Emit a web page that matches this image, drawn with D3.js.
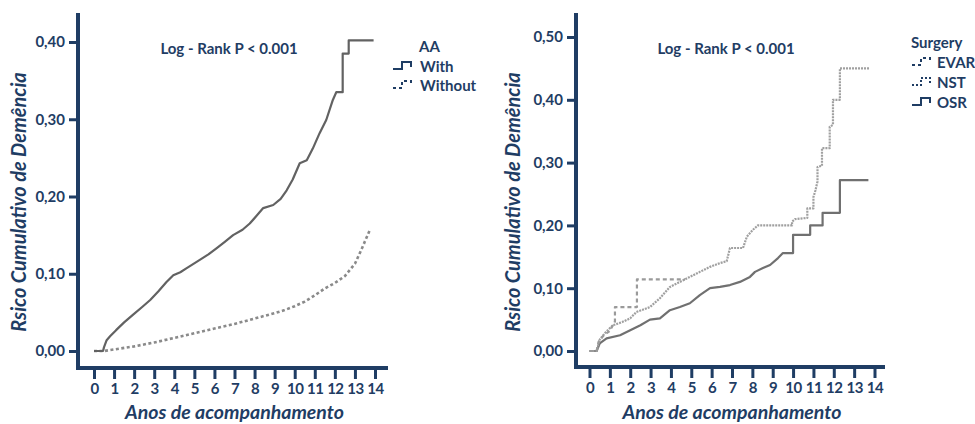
<!DOCTYPE html>
<html>
<head>
<meta charset="utf-8">
<script src="https://cdn.jsdelivr.net/npm/d3@7"></script>
<style>
  html, body { margin: 0; padding: 0; background: #ffffff; }
  svg { display: block; }
  text { font-family: Lato, "Open Sans", sans-serif; fill: #1f3d64; }
</style>
</head>
<body>
<svg id="chart" width="975" height="424"></svg>
<script>
// ---------- DATA ----------
const yearTicks = [0,1,2,3,4,5,6,7,8,9,10,11,12,13,14];
const leftYTicks = [0, 0.1, 0.2, 0.3, 0.4];
const rightYTicks = [0, 0.1, 0.2, 0.3, 0.4, 0.5];

const aaLegend = ["With", "Without"];
const surgeryLegend = ["EVAR", "NST", "OSR"];

// AA = With  [year, cumulative risk]
const withAA = [[0,0],[0.45,0],[0.5,0.005],[0.63,0.014],[0.8,0.019],[1.1,0.027],[1.5,0.037],[1.95,0.047],[2.4,0.057],[2.8,0.066],[3.2,0.077],[3.6,0.089],[3.95,0.098],[4.3,0.102],[4.6,0.107],[5.27,0.118],[5.7,0.125],[6.1,0.133],[6.5,0.141],[6.93,0.15],[7.4,0.157],[7.76,0.165],[8.1,0.175],[8.43,0.185],[8.93,0.189],[9.3,0.197],[9.6,0.208],[9.9,0.222],[10.25,0.243],[10.6,0.247],[10.9,0.262],[11.24,0.282],[11.57,0.299],[11.9,0.325],[12.07,0.335],[12.39,0.335],[12.39,0.385],[12.69,0.385],[12.69,0.402],[13.93,0.402]];
// AA = Without
const withoutAA = [[0,0],[0.5,0],[1,0.002],[2,0.006],[3,0.011],[4,0.017],[5,0.023],[6,0.029],[7,0.035],[8,0.042],[9,0.049],[9.5,0.053],[10,0.058],[10.5,0.064],[11,0.072],[11.5,0.081],[12,0.088],[12.5,0.097],[13,0.113],[13.3,0.13],[13.5,0.142],[13.75,0.157]];

// Surgery
const evar = [[0,0],[0.35,0],[0.45,0.015],[0.7,0.025],[1.0,0.032],[1.25,0.047],[1.25,0.07],[2.33,0.07],[2.33,0.114],[4.69,0.114]];
const nst = [[0,0],[0.35,0],[0.5,0.018],[0.8,0.03],[1.15,0.041],[1.6,0.046],[2.0,0.052],[2.3,0.062],[2.97,0.07],[3.46,0.084],[3.95,0.102],[4.44,0.11],[4.93,0.118],[5.42,0.126],[5.92,0.134],[6.41,0.14],[6.74,0.143],[6.9,0.164],[7.54,0.164],[7.73,0.182],[8.03,0.193],[8.27,0.2],[9.95,0.2],[9.95,0.206],[10.1,0.21],[10.7,0.212],[10.7,0.227],[11.0,0.227],[11.0,0.245],[11.1,0.256],[11.2,0.27],[11.2,0.293],[11.42,0.295],[11.42,0.323],[11.8,0.323],[11.8,0.357],[11.96,0.36],[11.96,0.40],[12.3,0.40],[12.3,0.45],[13.78,0.45]];
const osr = [[0,0],[0.35,0],[0.5,0.012],[0.84,0.02],[1.5,0.025],[2.0,0.033],[2.5,0.041],[2.97,0.05],[3.46,0.052],[3.95,0.065],[4.44,0.07],[4.93,0.076],[5.42,0.089],[5.92,0.1],[6.41,0.102],[6.9,0.105],[7.39,0.11],[7.88,0.118],[8.13,0.126],[8.52,0.132],[8.87,0.137],[9.26,0.148],[9.5,0.156],[10.0,0.156],[10.0,0.185],[10.84,0.185],[10.84,0.2],[11.45,0.2],[11.45,0.22],[12.3,0.22],[12.3,0.272],[13.7,0.272]];

// ---------- DRAW ----------
const NAVY = "#1f3d64";
const svg = d3.select("#chart");
const fmt = d => d3.format(".2f")(d).replace(".", ",");

function panel(opts) {
  const g = svg.append("g");
  const x = d3.scaleLinear().domain([0, 14]).range(opts.xr);
  const y = d3.scaleLinear().domain([0, opts.ymax]).range(opts.yr);

  // axis lines (extended frame)
  g.append("line").attr("x1", opts.ax).attr("x2", opts.ax).attr("y1", opts.top).attr("y2", opts.ay + 2)
    .attr("stroke", NAVY).attr("stroke-width", 4);
  g.append("line").attr("x1", opts.ax - 2).attr("x2", opts.right).attr("y1", opts.ay).attr("y2", opts.ay)
    .attr("stroke", NAVY).attr("stroke-width", 4);

  const ya = g.append("g").attr("transform", `translate(${opts.ax - 2},0)`)
    .call(d3.axisLeft(y).tickValues(opts.yTicks).tickFormat(fmt).tickSize(7).tickPadding(4));
  ya.select(".domain").remove();
  ya.selectAll(".tick line").attr("stroke", NAVY).attr("stroke-width", 3);
  ya.selectAll(".tick text").attr("font-size", 15).attr("font-weight", 700).style("fill", NAVY)
    .attr("font-family", "Lato");

  const xa = g.append("g").attr("transform", `translate(0,${opts.ay + 2})`)
    .call(d3.axisBottom(x).tickValues(yearTicks).tickFormat(d3.format("d")).tickSize(9).tickPadding(4));
  xa.select(".domain").remove();
  xa.selectAll(".tick line").attr("stroke", NAVY).attr("stroke-width", 3);
  xa.selectAll(".tick text").attr("font-size", 15).attr("font-weight", 700).style("fill", NAVY)
    .attr("font-family", "Lato").attr("letter-spacing", "-0.5px");

  // titles
  g.append("text").attr("x", (opts.xr[0] + opts.xr[1]) / 2).attr("y", 419)
    .attr("text-anchor", "middle").attr("font-size", 19.5).attr("font-style", "italic").attr("font-weight", 700)
    .text("Anos de acompanhamento");
  g.append("text").attr("transform", `translate(${opts.ytx},202) rotate(-90)`)
    .attr("text-anchor", "middle").attr("font-size", 20).attr("font-style", "italic").attr("font-weight", 700)
    .text("Rsico Cumulativo de Demência");

  g.append("text").attr("x", opts.lrx).attr("y", 54).attr("text-anchor", "middle")
    .attr("font-size", 15).attr("font-weight", 700).text("Log - Rank P < 0.001");

  const line = d3.line().x(d => x(d[0])).y(d => y(d[1])).curve(d3.curveLinear);
  opts.series.forEach(s => {
    g.append("path").datum(s.data).attr("d", line).attr("fill", "none")
      .attr("stroke", s.color).attr("stroke-width", s.width)
      .attr("stroke-dasharray", s.dash || null).attr("stroke-linejoin", "round");
  });
  return g;
}

panel({
  xr: [94, 375], yr: [351, 42], ymax: 0.4, ax: 78, ay: 368, top: 13, right: 388,
  yTicks: leftYTicks, ytx: 26, lrx: 229,
  series: [
    { data: withoutAA, color: "#8a8a8a", width: 2.6, dash: "3,2.5" },
    { data: withAA, color: "#626262", width: 2.2 }
  ]
});

panel({
  xr: [589.5, 874.5], yr: [351, 37], ymax: 0.5, ax: 576, ay: 367, top: 13, right: 885,
  yTicks: rightYTicks, ytx: 520, lrx: 726,
  series: [
    { data: osr, color: "#707070", width: 2.2 },
    { data: nst, color: "#a0a0a0", width: 2.2, dash: "2,1" },
    { data: evar, color: "#9a9a9a", width: 2.2, dash: "4,3" }
  ]
});

// legend symbol paths (KM step glyphs)
function glyph(g, x0, yb, dash) {
  g.append("path")
    .attr("d", `M${x0},${yb} h9 v-7 h9 v5`)
    .attr("fill", "none").attr("stroke", NAVY).attr("stroke-width", 2)
    .attr("stroke-dasharray", dash || null);
}

// left legend
const lg = svg.append("g");
lg.append("text").attr("x", 419).attr("y", 52).attr("font-size", 15).attr("font-weight", 700).text("AA");
aaLegend.forEach((t, i) => {
  const yy = 72 + i * 19;
  glyph(lg, 393, yy - 3, i === 0 ? null : "3,3");
  lg.append("text").attr("x", 420).attr("y", yy).attr("font-size", 15).attr("font-weight", 700).text(t);
});

// right legend
const rg = svg.append("g");
rg.append("text").attr("x", 911).attr("y", 48).attr("font-size", 15).attr("font-weight", 700).text("Surgery");
surgeryLegend.forEach((t, i) => {
  const yy = 68 + i * 20;
  glyph(rg, 912, yy - 3, i === 2 ? null : (i === 0 ? "3,3" : "2,2"));
  rg.append("text").attr("x", 937).attr("y", yy).attr("font-size", 15).attr("font-weight", 700).text(t);
});
</script>
</body>
</html>
